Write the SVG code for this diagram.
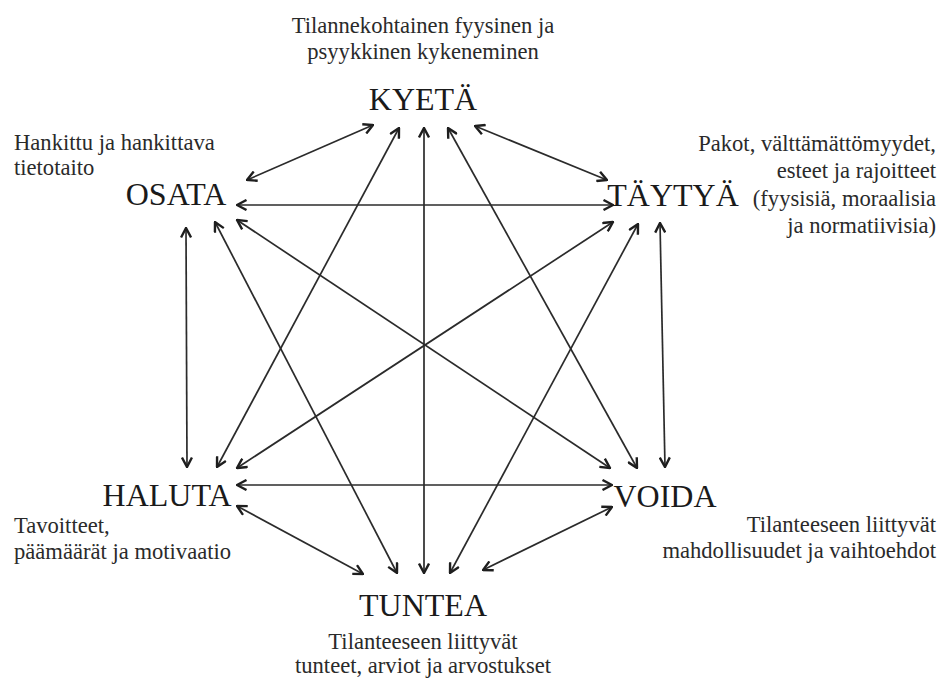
<svg xmlns="http://www.w3.org/2000/svg" width="940" height="680" viewBox="0 0 940 680">
  <style>
    .lbl { font-family: "Liberation Serif", "Times New Roman", serif; font-size: 32px; fill: #1a1a1a; }
    .note { font-family: "Liberation Serif", "Times New Roman", serif; font-size: 22.6px; fill: #2a2a2a; }
    .conn line { stroke: #2b2b2b; stroke-width: 1.7; fill: none; marker-start: url(#arr); marker-end: url(#arr); }
  </style>
  <defs>
    <marker id="arr" viewBox="0 0 12 12" refX="11" refY="6" markerWidth="12" markerHeight="12" markerUnits="userSpaceOnUse" orient="auto-start-reverse">
      <path d="M1.5,1 L11,6 L1.5,11" fill="none" stroke="#1e1e1e" stroke-width="2.4" stroke-linejoin="miter"/>
    </marker>
  </defs>
  <rect width="940" height="680" fill="#ffffff"/>

  <g id="connectors" class="conn">
    <line x1="373" y1="125" x2="247" y2="180"/>
    <line x1="475" y1="126" x2="607" y2="180"/>
    <line x1="399" y1="128" x2="217" y2="467"/>
    <line x1="448" y1="128" x2="637" y2="468"/>
    <line x1="424" y1="128" x2="424" y2="573"/>
    <line x1="237" y1="205" x2="613" y2="205"/>
    <line x1="186" y1="228" x2="187" y2="467"/>
    <line x1="215" y1="222" x2="397" y2="573"/>
    <line x1="237" y1="220" x2="610" y2="468"/>
    <line x1="613" y1="222" x2="237" y2="468"/>
    <line x1="638" y1="224" x2="450" y2="573"/>
    <line x1="660" y1="223" x2="665" y2="467"/>
    <line x1="237" y1="485" x2="612" y2="485"/>
    <line x1="237" y1="506" x2="363" y2="574"/>
    <line x1="612" y1="507" x2="483" y2="570"/>
  </g>

  <g id="kyeta">
    <text class="note" x="423" y="33" text-anchor="middle">Tilannekohtainen fyysinen ja</text>
    <text class="note" x="423" y="59" text-anchor="middle">psyykkinen kykeneminen</text>
    <text class="lbl" x="423" y="110" text-anchor="middle">KYETÄ</text>
  </g>

  <g id="osata">
    <text class="note" x="14" y="150">Hankittu ja hankittava</text>
    <text class="note" x="14" y="175">tietotaito</text>
    <text class="lbl" x="176" y="205" text-anchor="middle">OSATA</text>
  </g>

  <g id="taytya">
    <text class="note" x="936" y="151" text-anchor="end">Pakot, välttämättömyydet,</text>
    <text class="note" x="936" y="178" text-anchor="end">esteet ja rajoitteet</text>
    <text class="note" x="936" y="206" text-anchor="end">(fyysisiä, moraalisia</text>
    <text class="note" x="936" y="233" text-anchor="end">ja normatiivisia)</text>
    <text class="lbl" x="673" y="206" text-anchor="middle">TÄYTYÄ</text>
  </g>

  <g id="haluta">
    <text class="lbl" x="167" y="506" text-anchor="middle">HALUTA</text>
    <text class="note" x="14" y="533">Tavoitteet,</text>
    <text class="note" x="14" y="559">päämäärät ja motivaatio</text>
  </g>

  <g id="voida">
    <text class="lbl" x="665" y="507" text-anchor="middle">VOIDA</text>
    <text class="note" x="936" y="532" text-anchor="end">Tilanteeseen liittyvät</text>
    <text class="note" x="936" y="558" text-anchor="end">mahdollisuudet ja vaihtoehdot</text>
  </g>

  <g id="tuntea">
    <text class="lbl" x="423" y="616" text-anchor="middle">TUNTEA</text>
    <text class="note" x="423" y="649" text-anchor="middle">Tilanteeseen liittyvät</text>
    <text class="note" x="423" y="673" text-anchor="middle">tunteet, arviot ja arvostukset</text>
  </g>
</svg>
